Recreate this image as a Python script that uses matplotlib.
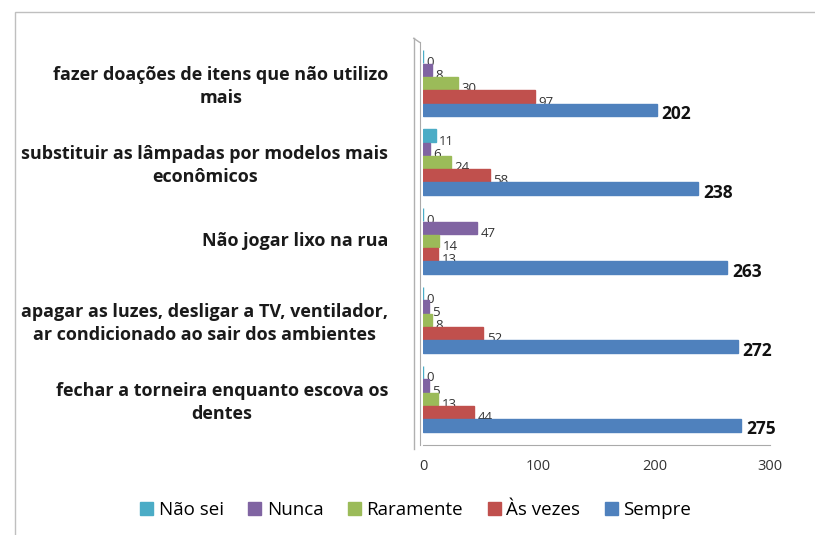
import matplotlib
matplotlib.use("Agg")
import matplotlib.pyplot as plt
import matplotlib.transforms as mtransforms
from matplotlib.patches import Rectangle
import numpy as np

categories = [
    "fazer doações de itens que não utilizo\nmais",
    "substituir as lâmpadas por modelos mais\neconômicos",
    "Não jogar lixo na rua",
    "apagar as luzes, desligar a TV, ventilador,\nar condicionado ao sair dos ambientes",
    "fechar a torneira enquanto escova os\ndentes",
]
series_names = ["Não sei", "Nunca", "Raramente", "Às vezes", "Sempre"]
nao_sei = [0, 11, 0, 0, 0]
nunca = [8, 6, 47, 5, 5]
raramente = [30, 24, 14, 8, 13]
as_vezes = [97, 58, 13, 52, 44]
sempre = [202, 238, 263, 272, 275]
xticks = [0, 100, 200, 300]

colors = ["#4BACC6", "#8064A2", "#9BBB59", "#C0504D", "#4F81BD"]
all_series = [nao_sei, nunca, raramente, as_vezes, sempre]

plt.rcParams['font.family'] = ['Open Sans', 'DejaVu Sans']

fig = plt.figure(figsize=(8.15, 5.35), dpi=100)
ax = fig.add_axes([0.519, 0.168, 0.426, 0.753])

# figure border (partial frame)
fig.patches.append(Rectangle((15/815, -0.1), 1.0, 1.1 - 12/535, transform=fig.transFigure,
                             fill=False, edgecolor="#BFBFBF", linewidth=1.0))

n = len(categories)
bh = 0.168
ypos = np.arange(n)
for j, (name, vals, col) in enumerate(zip(series_names, all_series, colors)):
    y = ypos + (j - 2) * bh
    ax.barh(y, vals, height=bh * 0.95, color=col, edgecolor=col, label=name, zorder=3)
    for yy, v in zip(y, vals):
        if j == 4:
            ax.text(v + 4, yy + 0.05, str(v), va="center", ha="left", fontsize=12.5,
                    fontweight="bold", color="#111111")
        else:
            ax.text(v + 3, yy + 0.07, str(v), va="center", ha="left", fontsize=9.5,
                    color="#333333")

ax.set_ylim(4.585, -0.52)
ax.set_xlim(0, 300)
ax.set_yticks([])
trans = mtransforms.blended_transform_factory(ax.transAxes, ax.transData)
for yy, lab in zip(ypos, categories):
    off = 0.04 if "\n" in lab else 0.0
    ax.text(-0.10, yy + off, lab, transform=trans, ha="right", va="center",
            multialignment="center", fontsize=13, fontweight="bold",
            color="#1a1a1a", linespacing=1.35)

ax.set_xticks(xticks)
ax.set_xticklabels([str(t) for t in xticks], fontsize=10.5, color="#333333")
ax.tick_params(axis="x", length=0, pad=10)

for s in ["top", "right"]:
    ax.spines[s].set_visible(False)
ax.spines["left"].set_color("#AAAAAA")
ax.spines["bottom"].set_color("#AAAAAA")
ax.spines["left"].set_position(("data", -3))

# 3D wall hint
ax.plot([-8, -8], [4.585 + 0.05, -0.57], color="#B0B0B0", lw=1, clip_on=False)
ax.plot([-8, -3], [-0.57, -0.52], color="#B0B0B0", lw=1, clip_on=False)

handles, labels = ax.get_legend_handles_labels()
fig.legend(handles, labels, loc="center", bbox_to_anchor=(0.51, 0.047), ncol=5,
           frameon=False, fontsize=13.5, handlelength=0.7, handleheight=0.7,
           handletextpad=0.3, columnspacing=1.3)

fig.savefig("out.png", dpi=100)
